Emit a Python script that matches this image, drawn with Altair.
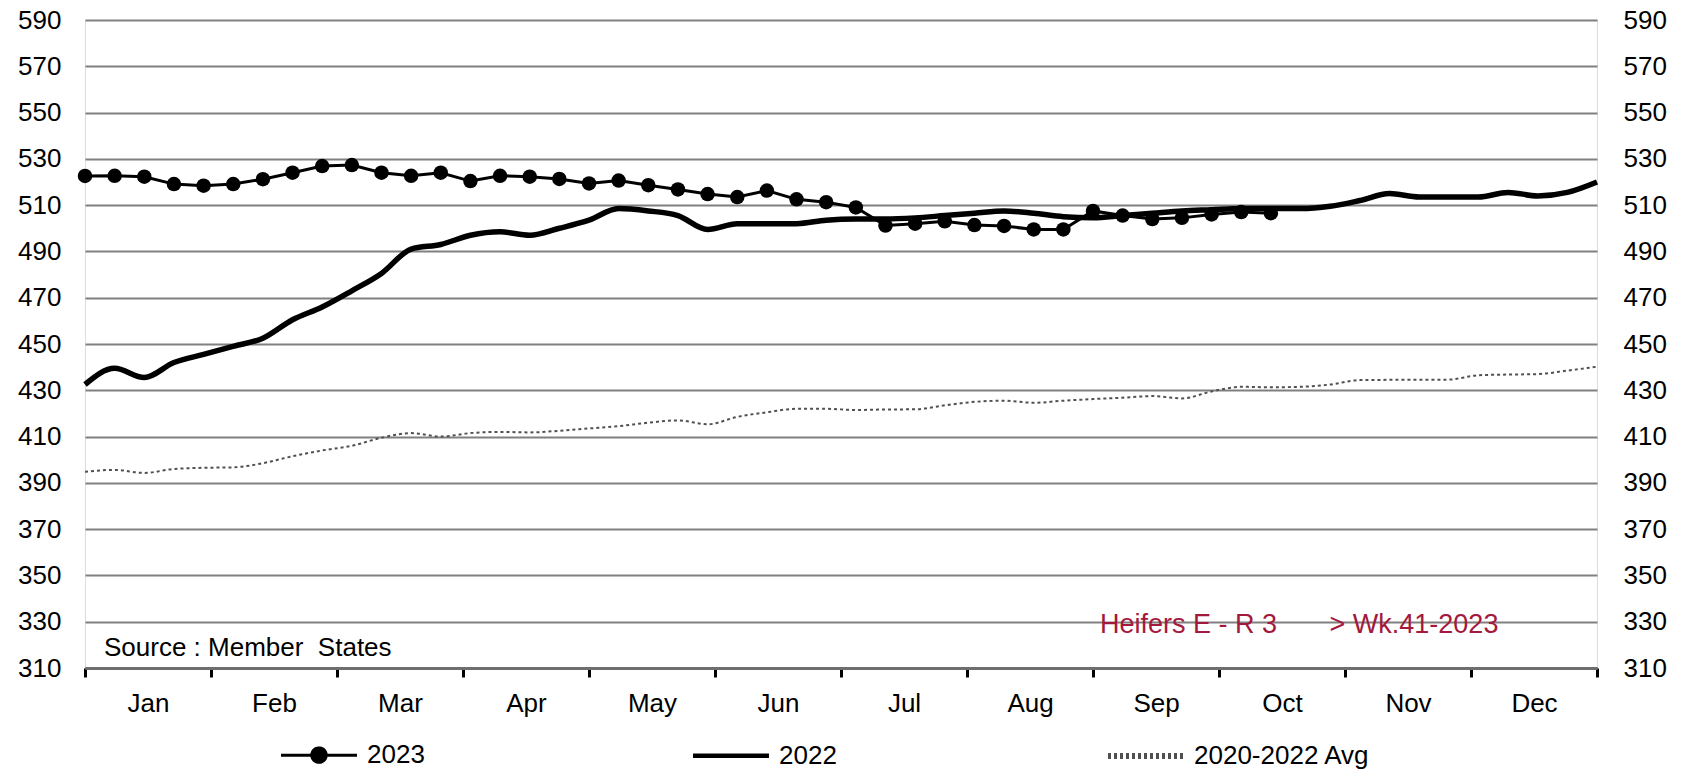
import json
import altair as alt
import pandas as pd

# ---------------- data ----------------
weeks = list(range(1, 53))
series_names = ["2023", "2022", "2020-2022 Avg"]
months = ["Jan", "Feb", "Mar", "Apr", "May", "Jun", "Jul", "Aug", "Sep", "Oct", "Nov", "Dec"]
y_ticks = list(range(310, 591, 20))

v2023 = [522.6, 522.7, 522.3, 519.1, 518.4, 519.1, 521.2, 524.0, 526.9, 527.3,
         524.0, 522.7, 524.0, 520.4, 522.7, 522.3, 521.3, 519.4, 520.6, 518.6,
         516.8, 514.8, 513.5, 516.3, 512.5, 511.3, 509.0, 501.2, 502.0, 503.0,
         501.4, 501.0, 499.5, 499.5, 507.5, 505.5, 504.0, 504.5, 506.0, 507.0,
         506.5]

v2022 = [432.5, 439.5, 435.5, 442.0, 445.5, 449.0, 452.5, 460.5, 466.0, 473.0,
         480.5, 491.0, 493.0, 497.0, 498.5, 497.0, 500.0, 503.5, 508.5, 507.5,
         505.5, 499.5, 502.0, 502.0, 502.0, 503.5, 504.0, 504.0, 504.5, 505.5,
         506.5, 507.5, 506.5, 505.0, 504.5, 505.5, 506.5, 507.5, 508.0, 508.5,
         508.5, 508.5, 509.5, 512.0, 515.0, 513.5, 513.5, 513.5, 515.5, 514.0,
         515.5, 520.0]

vavg = [394.8, 395.6, 394.3, 396.0, 396.5, 396.7, 398.5, 401.5, 404.0, 406.0,
        409.5, 411.5, 410.0, 411.5, 412.0, 411.8, 412.5, 413.5, 414.5, 416.0,
        417.0, 415.3, 418.5, 420.5, 422.0, 422.0, 421.5, 421.7, 421.8, 423.5,
        425.0, 425.5, 424.6, 425.5, 426.2, 426.8, 427.5, 426.5, 429.5, 431.5,
        431.3, 431.5, 432.5, 434.4, 434.5, 434.5, 434.6, 436.5, 436.8, 437.0,
        438.5, 440.2]

source_text = "Source : Member\u00a0\u00a0States"
note_text = "Heifers E - R 3" + "\u00a0" * 7 + "> Wk.41-2023"

df23 = pd.DataFrame({"week": weeks[:len(v2023)], "value": v2023, "series": series_names[0]})
df22 = pd.DataFrame({"week": weeks, "value": v2022, "series": series_names[1]})
dfav = pd.DataFrame({"week": weeks, "value": vavg, "series": series_names[2]})
# one row per series, used only to build the legend (clipped outside the plot)
df_leg = pd.DataFrame({"week": [-10] * 3, "value": [v2023[0], v2022[0], vavg[0]],
                       "series": series_names})

# ---------------- styling ----------------
FONT = "Liberation Sans, Arial, sans-serif"
W, H = 1512, 648
month_bounds = [1 + 51 * k / 12 for k in range(13)]
months_js = json.dumps(months + [""])

x_enc = alt.X(
    "week:Q",
    scale=alt.Scale(domain=[1, 52], nice=False, zero=False),
    axis=alt.Axis(
        values=month_bounds,
        labelExpr=f"{months_js}[round((datum.value - 1) * 12 / 51)] || ''",
        labelOffset=W / 24,
        labelFontSize=26, labelFont=FONT, labelColor="black",
        labelPadding=13, labelOverlap=False, labelFlush=False, labelBound=False,
        tickColor="black", tickWidth=3, tickSize=9,
        domainColor="#6e6e6e", domainWidth=3,
        grid=False, title=None,
    ),
)

y_scale = alt.Scale(domain=[310, 590], nice=False, zero=False)

y_left = alt.Y(
    "value:Q", scale=y_scale,
    axis=alt.Axis(
        values=y_ticks, orient="left", grid=True, gridColor="#808080",
        gridWidth=2, gridOpacity=1, domain=False, ticks=False, tickSize=0,
        labelPadding=24, labelFontSize=26, labelFont=FONT, labelColor="black",
        title=None,
    ),
)
y_right = alt.Y(
    "value:Q", scale=y_scale,
    axis=alt.Axis(
        values=y_ticks, orient="right", grid=False, domain=False, ticks=False,
        tickSize=0, labelPadding=26, labelFontSize=26, labelFont=FONT,
        labelColor="black", title=None,
    ),
)
y_none = alt.Y("value:Q", scale=y_scale, axis=None)

dot_path = "M-1,0L1,0M0.19,0A0.19,0.19,0,1,1,-0.19,0A0.19,0.19,0,1,1,0.19,0"
line_path = "M-1,0L1,0"
AVG_COLOR = "#505050"

legend = alt.Legend(
    title=None, orient="none", legendX=193, legendY=695,
    direction="horizontal", columns=3, columnPadding=259,
    symbolSize=5776, symbolOpacity=1,
    labelFontSize=26, labelFont=FONT, labelColor="black",
    labelOffset=7, labelLimit=500,
)

avg_line = alt.Chart(dfav).mark_line(
    interpolate="monotone", strokeWidth=2, strokeDash=[3, 3], color=AVG_COLOR
).encode(x=x_enc, y=y_left)

l22 = alt.Chart(df22).mark_line(
    interpolate="monotone", strokeWidth=5.5, color="black"
).encode(x=x_enc, y=y_right)

l23 = alt.Chart(df23).mark_line(strokeWidth=3, color="black").encode(x=x_enc, y=y_none)

p23 = alt.Chart(df23).mark_circle(size=210, opacity=1, color="black").encode(
    x=x_enc, y=y_none
)

leg_layer = alt.Chart(df_leg).mark_point(clip=True, filled=True, opacity=1).encode(
    x=x_enc, y=y_none,
    fill=alt.Fill("series:N", scale=alt.Scale(domain=series_names,
                  range=["black", "transparent", "transparent"]), legend=legend),
    stroke=alt.Stroke("series:N", scale=alt.Scale(domain=series_names,
                      range=["black", "black", AVG_COLOR]), legend=legend),
    shape=alt.Shape("series:N", scale=alt.Scale(domain=series_names,
                    range=[dot_path, line_path, line_path]), legend=legend),
    strokeWidth=alt.StrokeWidth("series:N", scale=alt.Scale(domain=series_names,
                                range=[3, 6, 2]), legend=legend),
    strokeDash=alt.StrokeDash("series:N", scale=alt.Scale(domain=series_names,
                              range=[[1, 0], [1, 0], [3, 3]]), legend=legend),
)

src = alt.Chart(pd.DataFrame({"t": [source_text]})).mark_text(
    align="left", baseline="middle", fontSize=26, font=FONT, color="black"
).encode(x=alt.value(19), y=alt.value(627.5), text="t:N")

note = alt.Chart(pd.DataFrame({"t": [note_text]})).mark_text(
    align="left", baseline="middle", fontSize=27, font=FONT, color="#A3193D"
).encode(x=alt.value(1015), y=alt.value(605), text="t:N")

chart = (
    alt.layer(avg_line, l22, l23, p23, leg_layer, src, note)
    .resolve_axis(y="independent")
    .properties(
        width=W, height=H,
        padding={"left": 77, "top": 12, "right": 76, "bottom": 103},
        autosize=alt.AutoSizeParams(type="none"),
    )
    .configure_view(stroke=None)
    .configure(background="white")
)

chart.save("out.html", embed_options={"renderer": "svg", "actions": False})
